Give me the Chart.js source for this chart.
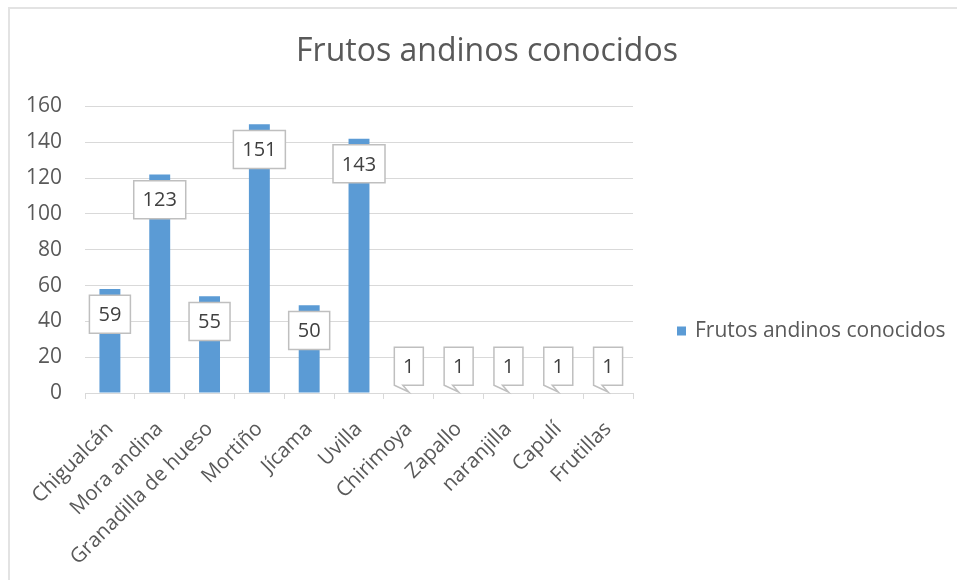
<!DOCTYPE html>
<html>
<head>
<meta charset="utf-8">
<script src="https://cdn.jsdelivr.net/npm/chart.js@4.4.1/dist/chart.umd.min.js"></script>
<style>
  html, body { margin: 0; padding: 0; background: #fff; }
  #wrap { position: relative; width: 957px; height: 580px; }
  #frame { position: absolute; left: 8px; top: 7px; right: 0; bottom: 0; border-left: 2px solid #e3e3e3; border-top: 2px solid #e3e3e3; pointer-events: none; }
</style>
</head>
<body>
<div id="wrap">
  <canvas id="chart" width="957" height="580"></canvas>
  <div id="frame"></div>
</div>
<script>
const chartTitle = 'Frutos andinos conocidos';
const seriesName = 'Frutos andinos conocidos';
const categories = ['Chigualcán', 'Mora andina', 'Granadilla de hueso', 'Mortiño', 'Jícama', 'Uvilla',
  'Chirimoya', 'Zapallo', 'naranjilla', 'Capulí', 'Frutillas'];
// bar heights as drawn, and the numbers printed in the callouts
const barValues = [58, 122, 54, 150, 49, 142, 0, 0, 0, 0, 0];
const labelValues = [59, 123, 55, 151, 50, 143, 1, 1, 1, 1, 1];
const yMin = 0;
const yMax = 160;
const yStep = 20;

const FONT = 'Open Sans';
const TEXT = '#595959';
const BLUE = '#5b9bd5';
const GRID = '#d9d9d9';

// callout boxes like the Excel data labels
const callouts = {
  id: 'callouts',
  afterDatasetsDraw(chart) {
    const ctx = chart.ctx;
    const y = chart.scales.y;
    const bars = chart.getDatasetMeta(0).data;
    ctx.save();
    ctx.font = '20px "' + FONT + '"';
    ctx.textAlign = 'center';
    ctx.textBaseline = 'middle';
    ctx.lineWidth = 1.5;
    ctx.strokeStyle = '#bfbfbf';
    bars.forEach((bar, i) => {
      const txt = String(labelValues[i]);
      const w = Math.round(ctx.measureText(txt).width + 18);
      const h = 38;
      const py = y.getPixelForValue(labelValues[i]);
      const left = bar.x - w / 2;
      let top;
      ctx.beginPath();
      if (labelValues[i] >= 10) {
        top = py + 8;
        ctx.rect(left, top, w, h);
      } else {
        top = py - 6 - h;
        const bottom = top + h;
        ctx.moveTo(left, top);
        ctx.lineTo(left + w, top);
        ctx.lineTo(left + w, bottom);
        ctx.lineTo(bar.x - 6, bottom);
        ctx.lineTo(bar.x, y.getPixelForValue(barValues[i]) - 1);
        ctx.lineTo(left, bottom);
        ctx.closePath();
      }
      ctx.fillStyle = '#fff';
      ctx.fill();
      ctx.stroke();
      ctx.fillStyle = '#404040';
      ctx.fillText(txt, bar.x, top + h / 2 + 1);
    });
    ctx.restore();
  }
};

// legend on the right, drawn by hand
const legendBox = {
  id: 'legendBox',
  afterDraw(chart) {
    const ctx = chart.ctx;
    const area = chart.chartArea;
    const x = area.right + 44;
    const yc = 331;
    ctx.save();
    ctx.fillStyle = BLUE;
    ctx.fillRect(x, yc - 4.5, 9, 9);
    ctx.font = '21px "' + FONT + '"';
    ctx.fillStyle = TEXT;
    ctx.textBaseline = 'middle';
    ctx.textAlign = 'left';
    ctx.fillText(seriesName, x + 18, yc);
    ctx.restore();
  }
};

new Chart(document.getElementById('chart'), {
  type: 'bar',
  data: {
    labels: categories,
    datasets: [{
      label: seriesName,
      data: barValues,
      backgroundColor: BLUE,
      barPercentage: 0.42,
      categoryPercentage: 1
    }]
  },
  options: {
    responsive: false,
    animation: false,
    layout: { padding: { left: 17, right: 0, top: 0, bottom: 0 } },
    plugins: {
      legend: { display: false },
      tooltip: { enabled: false },
      title: {
        display: true,
        text: chartTitle,
        color: TEXT,
        font: { family: FONT, size: 32, weight: 'normal' },
        padding: { top: 33, bottom: 35 }
      }
    },
    scales: {
      x: {
        grid: { drawOnChartArea: false, color: GRID, tickLength: 6, offset: true },
        border: { color: GRID },
        ticks: {
          color: TEXT,
          font: { family: FONT, size: 20.5 },
          minRotation: 45,
          maxRotation: 45,
          autoSkip: false,
          padding: 18
        },
        afterFit(scale) { scale.height = 187; }
      },
      y: {
        min: yMin,
        max: yMax,
        ticks: { stepSize: yStep, color: TEXT, font: { family: FONT, size: 21 }, padding: 23 },
        grid: { color: GRID, drawTicks: false },
        border: { display: false },
        afterFit(scale) { scale.width = 68; }
      },
      legendSpace: {
        type: 'linear',
        position: 'right',
        display: true,
        grid: { display: false, drawTicks: false },
        ticks: { display: false },
        border: { display: false },
        afterFit(scale) { scale.width = 324; }
      }
    }
  },
  plugins: [callouts, legendBox]
});
</script>
</body>
</html>
